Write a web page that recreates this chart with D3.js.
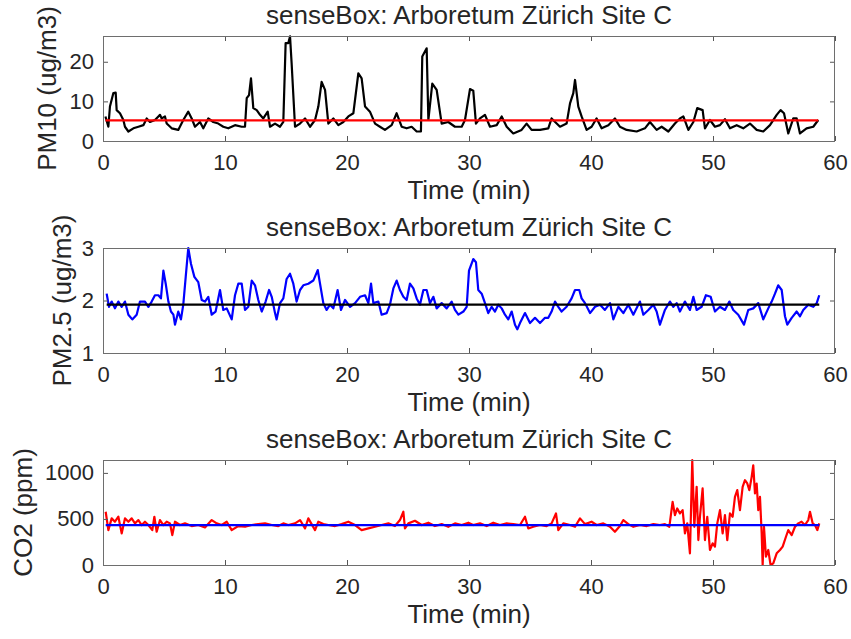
<!DOCTYPE html>
<html>
<head>
<meta charset="utf-8">
<script src="https://cdn.jsdelivr.net/npm/d3@7"></script>
<style>
  body { margin: 0; background: #fff; }
  svg text { font-family: "Liberation Sans", Arial, Helvetica, sans-serif; fill: #262626; }
</style>
</head>
<body>
<div id="chart"></div>
<script>
// values (time in minutes)
const titleText = 'senseBox: Arboretum Zürich Site C';
const xTicks = [0, 10, 20, 30, 40, 50, 60];

const pm10Time = [0.2, 0.44, 0.57, 0.85, 1.04, 1.12, 1.39, 1.67, 1.8, 2.08, 2.49, 2.9, 3.31, 3.58, 3.85, 4.26, 4.54, 4.67, 4.81, 5.08,
  5.22, 5.63, 6.17, 6.58, 6.99, 7.27, 7.54, 7.95, 8.22, 8.63, 9.04, 9.45, 9.86, 10.27, 10.82, 11.37, 11.64, 11.78, 11.97, 12.13,
  12.32, 12.6, 12.87, 13.14, 13.5, 13.69, 14.1, 14.51, 14.78, 14.97, 15.19, 15.33, 15.46, 15.74, 16.15, 16.56, 16.97, 17.38, 17.65, 17.92,
  18.2, 18.47, 18.88, 19.29, 19.7, 20.11, 20.52, 20.93, 21.2, 21.48, 21.88, 22.3, 22.7, 23.11, 23.66, 24.07, 24.48, 24.89, 25.3, 25.71,
  26.06, 26.17, 26.53, 26.67, 26.99, 27.35, 27.76, 28.3, 28.85, 29.4, 29.67, 30.08, 30.35, 30.57, 30.9, 31.31, 31.72, 32.27, 32.68, 33.09,
  33.63, 34.31, 34.72, 35.13, 35.82, 36.5, 36.77, 37.46, 38.0, 38.28, 38.55, 38.69, 38.96, 39.23, 39.64, 40.05, 40.46, 40.87, 41.42, 41.96,
  42.37, 42.92, 43.74, 44.42, 44.83, 45.38, 45.79, 46.34, 46.88, 47.29, 47.57, 47.98, 48.39, 48.71, 49.15, 49.34, 49.75, 50.16, 50.57, 50.98,
  51.39, 51.94, 52.48, 53.03, 53.58, 54.12, 54.67, 55.22, 55.54, 55.82, 56.17, 56.58, 56.86, 57.13, 57.67, 58.22, 58.63];
const pm10Values = [6.2, 3.6, 8.7, 12.1, 12.2, 7.8, 7.0, 5.3, 3.6, 2.4, 3.2, 3.6, 4.0, 5.7, 4.8, 5.3, 6.2, 6.6, 5.7, 6.2,
  4.4, 3.2, 2.8, 5.3, 7.4, 5.7, 3.6, 4.8, 3.2, 5.7, 4.8, 4.4, 3.6, 3.2, 4.0, 3.6, 3.6, 10.8, 11.6, 15.8,
  8.3, 7.8, 6.6, 5.7, 7.4, 3.6, 4.4, 3.6, 4.8, 24.7, 24.7, 26.4, 19.7, 3.6, 4.4, 5.7, 3.6, 5.3, 8.7, 14.9,
  12.9, 4.4, 5.7, 4.0, 4.8, 6.2, 7.0, 17.1, 15.8, 8.7, 7.4, 4.4, 3.6, 2.8, 4.0, 7.0, 3.6, 3.2, 3.6, 2.4,
  2.4, 21.3, 23.4, 5.3, 14.5, 12.9, 4.4, 4.8, 3.6, 3.6, 5.3, 13.1, 12.7, 4.4, 5.7, 6.6, 3.6, 4.0, 6.2, 3.6,
  1.9, 2.8, 4.4, 2.8, 2.8, 3.2, 5.7, 3.6, 4.4, 9.5, 12.1, 15.4, 8.7, 6.2, 2.8, 3.6, 5.7, 3.2, 4.0, 5.7,
  3.6, 2.8, 2.4, 3.2, 4.8, 2.8, 3.6, 2.4, 4.4, 5.7, 6.2, 2.8, 4.8, 8.3, 7.8, 3.2, 5.3, 3.6, 4.0, 5.5,
  3.2, 4.0, 3.2, 4.4, 2.8, 2.4, 4.0, 6.6, 7.8, 7.0, 1.9, 5.7, 5.7, 1.9, 3.2, 3.6, 5.3];
const pm10Mean = 5.2;

const pm25Time = [0.3, 0.49, 0.71, 0.98, 1.26, 1.53, 1.8, 2.08, 2.4, 2.76, 3.03, 3.44, 3.72, 3.99, 4.26, 4.54, 4.75, 4.95, 5.14, 5.36,
  5.57, 5.77, 5.9, 6.17, 6.39, 6.58, 6.78, 6.99, 7.21, 7.49, 7.81, 8.09, 8.36, 8.63, 8.91, 9.23, 9.59, 9.86, 10.14, 10.55,
  10.82, 11.09, 11.37, 11.64, 11.91, 12.19, 12.46, 12.73, 13.01, 13.33, 13.61, 13.83, 14.1, 14.23, 14.51, 14.78, 15.05, 15.33, 15.6, 15.87,
  16.15, 16.42, 16.83, 17.24, 17.6, 17.79, 18.06, 18.33, 18.61, 18.88, 19.23, 19.51, 19.84, 20.25, 20.66, 21.07, 21.48, 21.75, 21.97, 22.16,
  22.57, 22.84, 23.25, 23.52, 23.8, 24.07, 24.34, 24.62, 24.89, 25.16, 25.44, 25.71, 25.98, 26.26, 26.53, 26.8, 27.08, 27.35, 27.76, 28.17,
  28.58, 28.85, 29.13, 29.54, 29.81, 30.0, 30.35, 30.57, 30.76, 31.04, 31.31, 31.58, 31.86, 32.13, 32.4, 32.68, 32.95, 33.22, 33.5, 33.77,
  33.96, 34.18, 34.59, 35.0, 35.41, 35.82, 36.23, 36.5, 36.77, 37.05, 37.32, 37.59, 38.0, 38.41, 38.69, 39.04, 39.23, 39.51, 39.92, 40.33,
  40.74, 41.14, 41.56, 41.83, 42.24, 42.65, 43.06, 43.47, 44.01, 44.29, 44.7, 45.11, 45.38, 45.65, 46.06, 46.47, 46.75, 47.02, 47.29, 47.7,
  48.11, 48.39, 48.66, 49.07, 49.42, 49.81, 50.16, 50.57, 50.98, 51.34, 51.66, 52.07, 52.54, 52.89, 53.3, 53.71, 54.12, 54.53, 54.81, 55.08,
  55.35, 55.63, 55.9, 56.09, 56.45, 56.86, 57.13, 57.4, 57.81, 58.22, 58.5, 58.71];
const pm25Values = [2.13, 1.88, 1.98, 1.85, 1.98, 1.88, 1.98, 1.73, 1.64, 1.73, 1.98, 1.98, 1.88, 1.98, 2.10, 2.10, 2.04, 2.57, 2.32, 1.98,
  1.79, 1.73, 1.54, 1.79, 1.64, 1.92, 2.45, 3.0, 2.70, 2.45, 2.35, 2.01, 1.98, 2.07, 1.73, 1.79, 2.20, 1.82, 1.85, 1.64,
  2.10, 2.32, 2.32, 1.82, 1.88, 2.38, 2.29, 2.01, 1.79, 1.98, 2.20, 2.07, 1.76, 1.64, 1.95, 2.04, 2.41, 2.51, 2.32, 1.98,
  2.20, 2.29, 2.32, 2.38, 2.58, 2.32, 1.95, 1.82, 1.92, 1.85, 2.20, 1.82, 2.01, 1.88, 1.95, 2.07, 2.10, 1.95, 2.32, 1.95,
  1.98, 1.73, 1.76, 1.92, 2.23, 2.38, 2.20, 2.07, 2.01, 2.32, 2.23, 2.04, 1.92, 2.20, 2.20, 1.95, 2.07, 1.85, 1.95, 1.85,
  1.98, 1.82, 1.73, 1.79, 1.88, 2.57, 2.79, 2.73, 2.20, 2.13, 1.95, 1.76, 1.88, 1.79, 1.92, 1.85, 1.73, 1.64, 1.79, 1.54,
  1.45, 1.57, 1.76, 1.57, 1.67, 1.57, 1.67, 1.67, 1.79, 1.98, 1.88, 1.79, 1.88, 2.04, 2.20, 2.20, 2.04, 1.95, 1.76, 1.88,
  1.92, 1.82, 1.95, 1.64, 1.88, 1.76, 1.92, 1.73, 1.98, 1.73, 1.82, 1.92, 1.79, 1.54, 1.82, 1.98, 1.88, 1.95, 1.79, 1.98,
  1.82, 2.07, 1.82, 1.88, 2.10, 2.07, 1.79, 1.88, 1.82, 1.98, 1.82, 1.73, 1.54, 1.82, 1.85, 1.95, 1.64, 1.85, 1.98, 2.13,
  2.29, 2.20, 1.70, 1.54, 1.67, 1.79, 1.70, 1.82, 1.92, 1.88, 1.95, 2.10];
const pm25Mean = 1.92;

const co2Time = [0.22, 0.44, 0.71, 0.98, 1.26, 1.53, 1.8, 2.08, 2.35, 2.62, 2.9, 3.17, 3.44, 3.72, 4.04, 4.21, 4.4, 4.67, 4.95, 5.22,
  5.49, 5.68, 5.9, 6.31, 6.72, 7.27, 7.81, 8.36, 8.91, 9.32, 9.73, 10.14, 10.55, 11.09, 11.64, 12.19, 12.73, 13.28, 13.83, 14.37,
  14.78, 15.19, 15.74, 16.15, 16.56, 16.83, 17.1, 17.38, 17.65, 18.06, 18.47, 19.02, 19.56, 20.11, 20.66, 21.2, 21.75, 22.3, 22.84, 23.39,
  23.93, 24.34, 24.62, 24.75, 25.03, 25.57, 26.12, 26.67, 27.21, 27.76, 28.3, 28.85, 29.4, 29.95, 30.35, 30.9, 31.45, 31.99, 32.54, 33.09,
  33.63, 34.18, 34.59, 34.86, 35.27, 35.82, 36.36, 36.77, 37.13, 37.32, 37.73, 38.28, 38.69, 39.1, 39.51, 40.05, 40.46, 41.01, 41.56, 41.96,
  42.37, 42.65, 43.06, 43.47, 44.01, 44.56, 45.11, 45.65, 46.06, 46.42, 46.69, 46.88, 47.07, 47.29, 47.51, 47.7, 47.89, 48.11, 48.3, 48.47,
  48.66, 48.8, 48.93, 49.15, 49.34, 49.53, 49.75, 49.97, 50.16, 50.35, 50.57, 50.79, 50.98, 51.17, 51.39, 51.61, 51.8, 51.99, 52.21, 52.43,
  52.62, 52.81, 52.98, 53.17, 53.3, 53.44, 53.58, 53.71, 53.85, 53.99, 54.07, 54.18, 54.34, 54.53, 54.72, 54.94, 55.22, 55.49, 55.71, 55.98,
  56.17, 56.45, 56.72, 56.99, 57.26, 57.53, 57.81, 57.95, 58.17, 58.36, 58.55, 58.71];
const co2Values = [578, 379, 506, 470, 524, 343, 506, 470, 506, 452, 488, 434, 470, 434, 379, 524, 361, 488, 434, 470,
  452, 325, 470, 434, 452, 423, 434, 408, 488, 452, 434, 470, 379, 423, 415, 434, 444, 452, 434, 423,
  452, 434, 452, 488, 397, 506, 444, 379, 470, 444, 434, 423, 444, 470, 434, 379, 397, 415, 434, 452,
  423, 488, 578, 397, 452, 480, 434, 459, 423, 444, 415, 452, 434, 459, 434, 452, 423, 459, 434, 452,
  444, 434, 524, 397, 415, 434, 423, 452, 560, 379, 452, 434, 415, 506, 444, 470, 434, 452, 415, 361,
  423, 488, 444, 415, 434, 423, 444, 434, 444, 415, 686, 542, 614, 560, 596, 343, 452, 127, 1138, 415,
  849, 271, 524, 831, 271, 524, 163, 235, 199, 452, 596, 343, 542, 271, 560, 524, 740, 813, 596, 849,
  921, 885, 813, 957, 1083, 777, 885, 596, 740, 343, 0, 415, 90, 163, 0, 18, 127, 163, 199, 307,
  379, 325, 415, 452, 470, 434, 488, 578, 452, 434, 379, 452];
const co2Mean = 433;

const panels = [
  { time: pm10Time, values: pm10Values, mean: pm10Mean, yDomain: [0, 26.5], yTicks: [0, 10, 20],
    yLabel: 'PM10 (ug/m3)', labelX: 47, color: '#000000', meanColor: '#ff0000', top: 36 },
  { time: pm25Time, values: pm25Values, mean: pm25Mean, yDomain: [1, 3], yTicks: [1, 2, 3],
    yLabel: 'PM2.5 (ug/m3)', labelX: 62, color: '#0000ff', meanColor: '#000000', top: 248 },
  { time: co2Time, values: co2Values, mean: co2Mean, yDomain: [0, 1140], yTicks: [0, 500, 1000],
    yLabel: 'CO2 (ppm)', labelX: 23, color: '#ff0000', meanColor: '#0000ff', top: 460 }
];

const width = 851, height = 639;
const left = 103, right = 835, plotH = 105;
const tickFont = 22, labelFont = 26;

const svg = d3.select('#chart').append('svg')
  .attr('width', width)
  .attr('height', height);

const x = d3.scaleLinear().domain([0, 60]).range([left, right]);

panels.forEach(p => {
  const y = d3.scaleLinear().domain(p.yDomain).range([p.top + plotH, p.top]);
  const g = svg.append('g');

  // data line
  const line = d3.line()
    .x((d, i) => x(p.time[i]))
    .y(d => y(d));

  g.append('path')
    .datum(p.values)
    .attr('d', line)
    .attr('fill', 'none')
    .attr('stroke', p.color)
    .attr('stroke-width', 2.2)
    .attr('stroke-linejoin', 'round');

  // mean line across the data range
  g.append('line')
    .attr('x1', x(p.time[0]))
    .attr('x2', x(p.time[p.time.length - 1]))
    .attr('y1', y(p.mean))
    .attr('y2', y(p.mean))
    .attr('stroke', p.meanColor)
    .attr('stroke-width', 2.2);

  // axes with inward ticks, box on all sides
  const axisStyle = sel => {
    sel.select('.domain').remove();
    sel.selectAll('line').attr('stroke', '#555').attr('stroke-width', 1);
    sel.selectAll('text').style('font-size', tickFont + 'px').attr('fill', '#262626');
  };

  g.append('g')
    .attr('transform', `translate(0,${p.top + plotH})`)
    .call(d3.axisBottom(x).tickValues(xTicks).tickSize(-5).tickPadding(13).tickFormat(d3.format('d')))
    .call(axisStyle);

  g.append('g')
    .attr('transform', `translate(0,${p.top})`)
    .call(d3.axisTop(x).tickValues(xTicks).tickSize(-5).tickFormat(''))
    .call(axisStyle);

  g.append('g')
    .attr('transform', `translate(${left},0)`)
    .call(d3.axisLeft(y).tickValues(p.yTicks).tickSize(-5).tickPadding(9).tickFormat(d3.format('d')))
    .call(axisStyle);

  g.append('g')
    .attr('transform', `translate(${right},0)`)
    .call(d3.axisRight(y).tickValues(p.yTicks).tickSize(-5).tickFormat(''))
    .call(axisStyle);

  g.append('rect')
    .attr('x', left + 0.5)
    .attr('y', p.top + 0.5)
    .attr('width', right - left - 1)
    .attr('height', plotH)
    .attr('fill', 'none')
    .attr('stroke', '#6e6e6e')
    .attr('stroke-width', 1);

  // title
  g.append('text')
    .attr('x', (left + right) / 2)
    .attr('y', p.top - 12)
    .attr('text-anchor', 'middle')
    .style('font-size', labelFont + 'px')
    .text(titleText);

  // x label
  g.append('text')
    .attr('x', (left + right) / 2)
    .attr('y', p.top + plotH + 58)
    .attr('text-anchor', 'middle')
    .style('font-size', labelFont + 'px')
    .text('Time (min)');

  // y label
  g.append('text')
    .attr('transform', `translate(${p.labelX + 9},${p.top + plotH / 2}) rotate(-90)`)
    .attr('text-anchor', 'middle')
    .style('font-size', labelFont + 'px')
    .text(p.yLabel);
});
</script>
</body>
</html>
